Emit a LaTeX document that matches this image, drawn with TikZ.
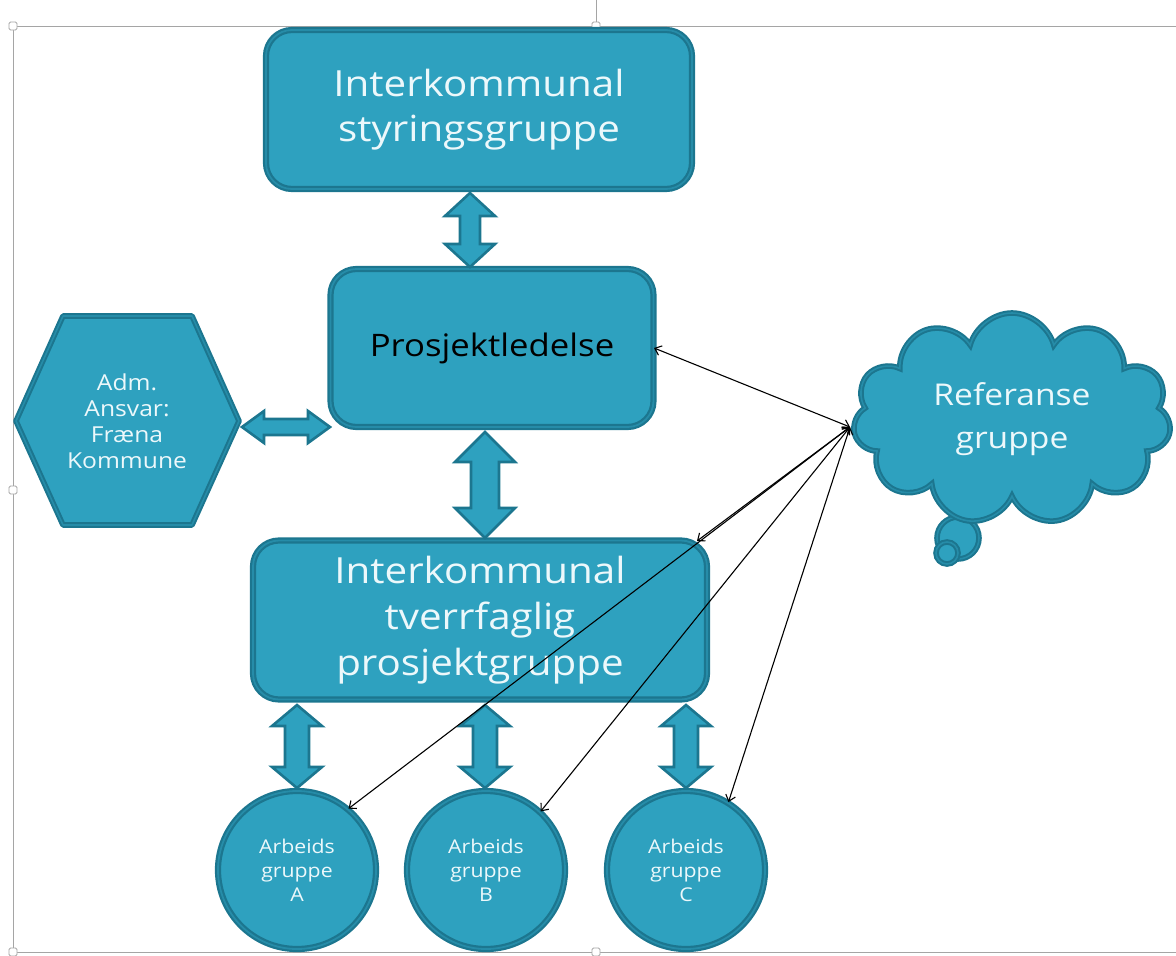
\documentclass[tikz,border=0pt]{standalone}
\usepackage{fontspec}
\setmainfont[FakeStretch=1.12]{Open Sans}
\usetikzlibrary{shapes.symbols,arrows.meta}
\definecolor{boxfill}{RGB}{46,161,191}
\definecolor{boxedge}{RGB}{28,118,143}
\definecolor{boxmid}{RGB}{38,140,168}
\definecolor{txt}{RGB}{236,248,251}
\definecolor{framecol}{RGB}{165,165,165}
\newcommand\vdarr[6]{\filldraw[blockarrow] (#1,#2) -- ({#1+#5},{#2+#6}) -- ({#1+#4},{#2+#6}) -- ({#1+#4},{#3-#6}) -- ({#1+#5},{#3-#6}) -- (#1,#3) -- ({#1-#5},{#3-#6}) -- ({#1-#4},{#3-#6}) -- ({#1-#4},{#2+#6}) -- ({#1-#5},{#2+#6}) -- cycle;}
\newcommand\hdarr[6]{\filldraw[blockarrow] (#2,#1) -- ({#2+#6},{#1-#5}) -- ({#2+#6},{#1-#4}) -- ({#3-#6},{#1-#4}) -- ({#3-#6},{#1-#5}) -- (#3,#1) -- ({#3-#6},{#1+#5}) -- ({#3-#6},{#1+#4}) -- ({#2+#6},{#1+#4}) -- ({#2+#6},{#1+#5}) -- cycle;}
\begin{document}
\begin{tikzpicture}[x=1pt,y=-1pt,
  box/.style={rounded corners=26pt, fill=boxfill, draw=boxedge, double=boxmid, double distance=1.8pt, line width=2.2pt, text=txt, align=center, inner sep=0pt},
  shapeln/.style={fill=boxfill, draw=boxedge, double=boxmid, double distance=1.6pt, line width=2pt},
  blockarrow/.style={fill=boxfill, draw=boxedge, line width=2.6pt, line join=miter},
  circ/.style={circle, fill=boxfill, draw=boxedge, double=boxmid, double distance=1.8pt, line width=2.2pt, minimum size=158pt, inner sep=0pt, text=txt, align=center, font=\fontsize{19}{24}\selectfont},
  conn/.style={{Straight Barb[length=6pt,width=10pt]}-{Straight Barb[length=6pt,width=10pt]}, line width=1.1pt, black},
  handle/.style={fill=white, draw=framecol, line width=0.8pt, rounded corners=1.5pt}]
\useasboundingbox (0,0) rectangle (1176,956);
% selection frame
\draw[framecol, line width=0.9pt] (596,0) -- (596,26);
\draw[framecol, line width=0.9pt] (1176,26) -- (13,26) -- (13,952) -- (1176,952);
\foreach \p in {(13,26),(596,26),(13,490),(13,952),(596,952)}
  \filldraw[handle] \p ++(-4,-4) rectangle ++(8,8);
% boxes
\node[box, minimum width=426pt, minimum height=159pt, font=\fontsize{36}{45}\selectfont] (top) at (479,109.5) {Interkommunal\\styringsgruppe};
\node[box, minimum width=323pt, minimum height=158pt, text=black, font=\fontsize{31}{36}\selectfont] (pl) at (492,348) {Prosjektledelse};
\node[box, minimum width=454pt, minimum height=159pt, font=\fontsize{36}{46}\selectfont] (mid) at (480,620) {Interkommunal\\tverrfaglig\\prosjektgruppe};
% hexagon
\filldraw[shapeln, line join=round] (16,421) -- (63,316) -- (192,316) -- (239,421) -- (192,525) -- (63,525) -- cycle;
\node[text=txt, align=center, font=\fontsize{22}{26}\selectfont] (adm) at (127,421) {Adm.\\Ansvar:\\Fræna\\Kommune};
% circles
\node[circ] (A) at (297,870) {Arbeids\\gruppe\\A};
\node[circ] (B) at (486,870) {Arbeids\\gruppe\\B};
\node[circ] (C) at (686,870) {Arbeids\\gruppe\\C};
% cloud
\filldraw[shapeln] (958,538) circle (21);
\filldraw[shapeln] (947,553) circle (11);
\node[cloud, cloud puffs=11, aspect=1.5, shapeln, minimum width=318pt, minimum height=212pt, text=txt, align=center, font=\fontsize{30}{43}\selectfont] (ref) at (1012,419) {Referanse\\gruppe};
% block arrows
\vdarr{470}{193}{267}{10}{25}{23}
\vdarr{485}{432}{538}{14}{30}{30}
\hdarr{427}{242}{330}{8}{16}{22}
\vdarr{297}{705}{788}{12}{25}{21}
\vdarr{485}{705}{788}{12}{25}{21}
\vdarr{686}{705}{788}{12}{25}{21}
% connectors
\coordinate (rp) at (850,427);
\coordinate (pe) at (654,348);
\coordinate (mc) at (697,541);
\draw[conn] (rp) -- (pe);
\draw[conn] (rp) -- (mc);
\draw[conn] (rp) -- (A.50);
\draw[conn] (rp) -- (B.47);
\draw[conn] (rp) -- (C.58);
\end{tikzpicture}
\end{document}
